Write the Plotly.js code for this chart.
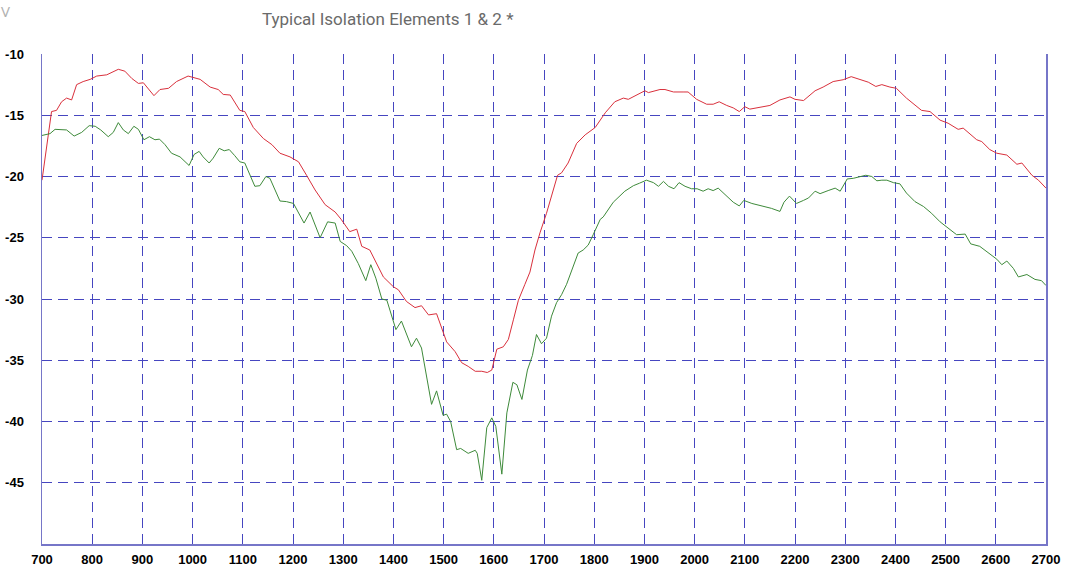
<!DOCTYPE html>
<html>
<head>
<meta charset="utf-8">
<script src="https://cdn.plot.ly/plotly-3.0.1.min.js"></script>
<style>
  html, body { margin: 0; padding: 0; background: #ffffff; }
  #chart { width: 1068px; height: 567px; }
</style>
</head>
<body>
<div id="chart"></div>
<script>
// Element 1 (red) - frequency (MHz) and isolation (dB)
const redFreq = [700,719,729,739,749,759,769,782,796,809,829,852,865,879,892,902,923,935,952,968,991,1015,1035,1051,1061,1075,1094,1104,1121,1141,1158,1174,1194,1211,1227,1244,1264,1284,1296,1313,1327,1337,1353,1363,1380,1400,1410,1426,1443,1456,1470,1486,1506,1523,1536,1549,1563,1576,1587,1596,1606,1619,1629,1639,1649,1662,1672,1682,1692,1705,1727,1735,1748,1765,1782,1802,1822,1841,1858,1868,1885,1901,1908,1931,1941,1958,1977,1987,2004,2024,2037,2049,2064,2077,2089,2100,2110,2124,2150,2170,2190,2200,2217,2240,2256,2276,2296,2312,2329,2346,2361,2373,2389,2402,2422,2439,2452,2469,2489,2505,2525,2535,2562,2572,2588,2602,2622,2642,2652,2672,2685,2700];
const redVals = [-20.3,-14.7,-14.6,-13.9,-13.6,-13.75,-12.5,-12.25,-12.07,-11.8,-11.7,-11.25,-11.4,-12.0,-12.4,-12.35,-13.4,-12.9,-12.8,-12.25,-11.8,-12.07,-12.7,-12.9,-13.3,-13.35,-14.6,-14.7,-16.0,-16.9,-17.4,-18.1,-18.4,-18.8,-19.9,-21.1,-22.3,-22.9,-23.5,-24.5,-24.3,-25.7,-26.0,-26.8,-28.2,-29.0,-29.25,-30.2,-30.7,-30.55,-31.3,-31.2,-33.5,-34.3,-35.2,-35.5,-35.9,-35.9,-36.0,-35.8,-34.1,-33.9,-33.3,-31.7,-30.1,-28.8,-27.8,-26.0,-24.6,-23.0,-19.9,-19.7,-18.9,-17.3,-16.6,-16.0,-14.8,-13.9,-13.6,-13.7,-13.35,-13.0,-13.15,-12.9,-12.9,-13.1,-13.1,-13.1,-13.7,-14.1,-14.1,-13.9,-14.2,-14.4,-14.7,-14.3,-14.5,-14.4,-14.2,-13.75,-13.5,-13.7,-13.8,-13.0,-12.7,-12.25,-12.1,-11.85,-12.05,-12.3,-12.65,-12.5,-12.7,-12.8,-13.6,-14.2,-14.6,-14.7,-15.4,-15.65,-16.15,-16.05,-17.0,-17.15,-17.8,-18.1,-18.25,-19.0,-18.9,-19.9,-20.3,-20.95];

// Element 2 (green)
const greenFreq = [700,716,726,739,749,764,779,794,806,817,832,842,852,862,872,883,892,903,914,925,934,945,958,975,993,1003,1013,1021,1033,1041,1053,1063,1073,1084,1094,1104,1113,1124,1134,1146,1154,1174,1187,1201,1222,1234,1254,1269,1284,1294,1307,1317,1330,1345,1355,1365,1377,1387,1405,1416,1436,1446,1456,1476,1486,1499,1506,1514,1526,1534,1549,1563,1567,1576,1586,1596,1604,1616,1626,1638,1646,1656,1667,1677,1685,1695,1705,1715,1725,1735,1745,1758,1768,1778,1788,1798,1812,1818,1838,1861,1878,1890,1904,1918,1928,1938,1948,1959,1969,1981,1994,2005,2017,2027,2037,2047,2064,2077,2089,2098,2114,2137,2153,2170,2178,2189,2197,2203,2217,2227,2240,2250,2266,2280,2290,2304,2316,2329,2341,2353,2363,2373,2383,2396,2409,2422,2439,2456,2472,2489,2502,2522,2539,2550,2568,2585,2602,2612,2622,2635,2645,2662,2678,2691,2700];
const greenVals = [-16.65,-16.5,-16.15,-16.15,-16.2,-16.7,-16.4,-15.85,-15.9,-16.2,-16.75,-16.4,-15.6,-16.2,-16.5,-15.9,-16.15,-17.0,-16.75,-17.0,-16.95,-17.4,-18.1,-18.4,-19.1,-18.2,-17.95,-18.4,-18.9,-18.5,-17.7,-17.9,-17.8,-18.3,-18.8,-18.9,-19.7,-20.8,-20.75,-20.0,-20.15,-22.0,-22.05,-22.2,-23.8,-22.9,-25.0,-23.7,-23.8,-25.3,-25.65,-26.1,-27.1,-28.5,-27.2,-28.3,-30.0,-30.1,-32.5,-31.8,-33.9,-33.2,-34.0,-38.6,-37.5,-39.5,-39.4,-40.0,-42.3,-42.2,-42.6,-42.35,-42.6,-44.8,-40.5,-39.7,-40.4,-44.3,-39.3,-36.8,-37.0,-38.2,-35.8,-34.6,-32.9,-33.65,-33.2,-31.4,-30.3,-29.65,-28.8,-27.35,-26.25,-26.0,-25.6,-24.75,-23.5,-23.3,-22.1,-21.2,-20.75,-20.55,-20.3,-20.5,-20.8,-20.4,-20.8,-21.0,-20.5,-20.8,-21.0,-21.0,-21.2,-21.0,-21.15,-20.95,-21.6,-22.1,-22.4,-21.95,-22.2,-22.4,-22.6,-22.85,-22.1,-21.6,-21.9,-22.2,-21.95,-21.75,-21.2,-21.4,-21.15,-20.95,-21.2,-20.2,-20.15,-20.05,-19.9,-20.0,-20.35,-20.3,-20.3,-20.5,-20.6,-21.35,-22.05,-22.45,-23.0,-23.7,-24.1,-24.75,-24.7,-25.5,-25.7,-26.25,-26.75,-27.2,-26.9,-27.5,-28.2,-28.0,-28.4,-28.5,-28.9];

const xTicks = [700,800,900,1000,1100,1200,1300,1400,1500,1600,1700,1800,1900,2000,2100,2200,2300,2400,2500,2600,2700];
const yTicks = [-10,-15,-20,-25,-30,-35,-40,-45];
const titleText = 'Typical Isolation Elements 1 &amp; 2 *';

const gridColor = '#4646c0';
const axisColor = '#7676c8';
const tickFont = { family: 'Liberation Sans, Arial, sans-serif', size: 13, color: '#000000', weight: 'bold' };

const traces = [
  { x: redFreq, y: redVals, type: 'scatter', mode: 'lines', name: 'Element 1',
    line: { color: '#d9303c', width: 1 }, hoverinfo: 'x+y' },
  { x: greenFreq, y: greenVals, type: 'scatter', mode: 'lines', name: 'Element 2',
    line: { color: '#3e8a3a', width: 1 }, hoverinfo: 'x+y' }
];

const layout = {
  width: 1068, height: 567,
  margin: { l: 42, r: 22, t: 54, b: 23 },
  paper_bgcolor: '#ffffff', plot_bgcolor: '#ffffff',
  showlegend: false,
  title: {
    text: titleText,
    xref: 'container', yref: 'container',
    x: 0.363, y: 0.966, xanchor: 'center', yanchor: 'middle',
    font: { family: 'Roboto, Open Sans, sans-serif', size: 17, color: '#6a6a6a' }
  },
  xaxis: {
    range: [700, 2700], tickvals: xTicks, ticktext: xTicks.map(String),
    showgrid: true, gridcolor: gridColor, gridwidth: 1, griddash: '10px,6px',
    showline: true, linecolor: axisColor, linewidth: 1.5, mirror: false,
    ticks: '', zeroline: false, tickfont: tickFont, ticklabelstandoff: 3
  },
  yaxis: {
    range: [-50, -10], tickvals: yTicks, ticktext: yTicks.map(String),
    showgrid: true, gridcolor: gridColor, gridwidth: 1, griddash: '10px,6px',
    showline: true, linecolor: axisColor, linewidth: 1.5, mirror: true,
    ticks: '', zeroline: false, tickfont: tickFont, ticklabelstandoff: 14
  },
  annotations: [
    { text: 'V', xref: 'paper', yref: 'paper', x: -0.0359, y: 1.0878, xanchor: 'center', yanchor: 'middle',
      showarrow: false, font: { family: 'Open Sans, sans-serif', size: 15, color: '#b0b0b0' } }
  ]
};

Plotly.newPlot('chart', traces, layout, { displayModeBar: false, staticPlot: true });
</script>
</body>
</html>
